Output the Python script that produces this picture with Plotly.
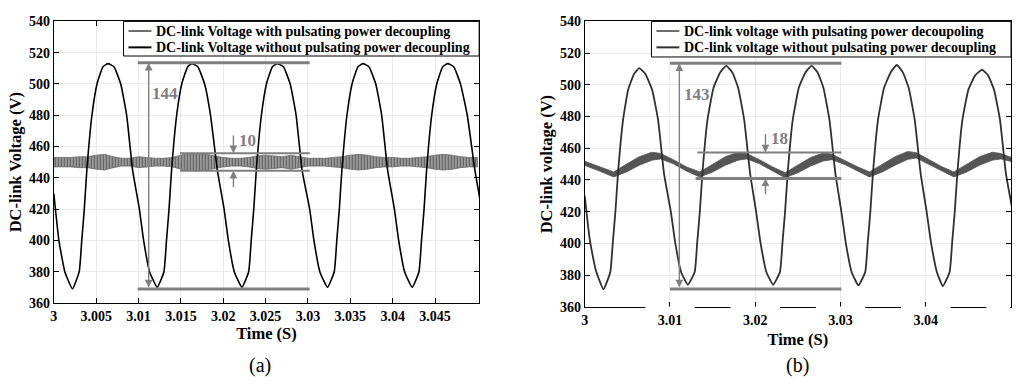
import plotly.graph_objects as go

FONT = "Liberation Serif, Times New Roman, serif"
W, H = 1022, 384

# ---------------- Panel (a) data ----------------
ta_black = [3.0000, 3.0006, 3.0013,
            3.0022, 3.0030, 3.0033, 3.0036, 3.0039, 3.0045, 3.0051, 3.0058, 3.0064, 3.0071, 3.0079, 3.0086, 3.0093, 3.0101, 3.0106, 3.0113,
            3.0122, 3.0130, 3.0133, 3.0136, 3.0139, 3.0145, 3.0151, 3.0158, 3.0163, 3.0170, 3.0178, 3.0185, 3.0193, 3.0201, 3.0206, 3.0213,
            3.0222, 3.0230, 3.0233, 3.0236, 3.0239, 3.0245, 3.0251, 3.0258, 3.0264, 3.0271, 3.0279, 3.0286, 3.0293, 3.0302, 3.0307, 3.0314,
            3.0323, 3.0331, 3.0334, 3.0337, 3.0340, 3.0346, 3.0352, 3.0359, 3.0365, 3.0372, 3.0380, 3.0387, 3.0394, 3.0402, 3.0407, 3.0414,
            3.0423, 3.0431, 3.0434, 3.0437, 3.0440, 3.0446, 3.0452, 3.0459, 3.0465, 3.0472, 3.0480, 3.0488, 3.0497, 3.0505]
va_black = [430, 400, 380,
            369, 380, 400, 420, 445, 480, 500, 511, 513, 511, 500, 480, 445, 420, 400, 380,
            370, 380, 400, 420, 445, 480, 500, 511, 513, 511, 500, 480, 445, 420, 400, 380,
            370, 380, 400, 420, 445, 480, 500, 511, 513, 511, 500, 480, 445, 420, 400, 380,
            370, 380, 400, 420, 445, 480, 500, 511, 513, 511, 500, 480, 445, 420, 400, 380,
            370, 380, 400, 420, 445, 480, 500, 511, 513, 511, 500, 480, 445, 420]

ta_rip = [3.000, 3.001, 3.002, 3.003, 3.004, 3.005, 3.006, 3.007, 3.008, 3.009,
          3.010, 3.011, 3.012, 3.013, 3.014, 3.015, 3.016, 3.017, 3.018, 3.019,
          3.020, 3.021, 3.022, 3.023, 3.024, 3.025, 3.026, 3.027, 3.028, 3.029,
          3.030, 3.031, 3.032, 3.033, 3.034, 3.035, 3.036, 3.037, 3.038, 3.039,
          3.040, 3.041, 3.042, 3.043, 3.044, 3.045, 3.046, 3.047, 3.048, 3.049, 3.050]
va_rip_mid = [450, 450, 450, 450, 450, 450, 450, 450, 450, 450,
              450, 450, 450, 450, 450, 450, 450, 450, 450, 450,
              450, 450, 450, 450, 450, 450, 450, 450, 450, 450,
              450, 450, 450, 450, 450, 450, 450, 450, 450, 450,
              450, 450, 450, 450, 450, 450, 450, 450, 450, 450, 450]
va_rip_hw = [3, 3, 3, 3.5, 3.5, 4.5, 5, 3.5, 2.5, 2.5,
             3.5, 3, 2.5, 2.5, 3, 4.5, 5.5, 5.5, 5, 4,
             3, 2.5, 2.5, 3, 4, 4.5, 4, 3.5, 4.5, 3.5,
             2.5, 2.5, 2.5, 3, 3.5, 4.5, 5, 4.5, 3.5, 3,
             3, 2.5, 2.5, 3, 3.5, 4.5, 5, 4.5, 3.5, 3, 3]

# ---------------- Panel (b) data ----------------
tb_dark = [3.0000, 3.0006, 3.0013,
           3.0022, 3.0030, 3.0033, 3.0036, 3.0039, 3.0045, 3.0051, 3.0058, 3.0064, 3.0071, 3.0079, 3.0086, 3.0093, 3.0101, 3.0106, 3.0113,
           3.0121, 3.0129, 3.0132, 3.0135, 3.0138, 3.0144, 3.0151, 3.0159, 3.0166, 3.0173, 3.0180, 3.0187, 3.0194, 3.0201, 3.0206, 3.0213,
           3.0221, 3.0229, 3.0232, 3.0235, 3.0238, 3.0244, 3.0251, 3.0259, 3.0266, 3.0273, 3.0280, 3.0287, 3.0294, 3.0301, 3.0306, 3.0313,
           3.0321, 3.0329, 3.0332, 3.0335, 3.0338, 3.0344, 3.0351, 3.0359, 3.0366, 3.0373, 3.0380, 3.0387, 3.0394, 3.0401, 3.0406, 3.0413,
           3.0420, 3.0428, 3.0431, 3.0434, 3.0437, 3.0443, 3.0450, 3.0458, 3.0466, 3.0473, 3.0480, 3.0487, 3.0494, 3.0502]
vb_dark = [430, 402, 383,
           371, 382, 401, 420, 444, 478, 497, 507, 510.5, 507, 497, 478, 444, 420, 401, 382,
           374, 382, 401, 420, 444, 478, 498, 508, 512, 508, 498, 478, 444, 420, 401, 382,
           374, 382, 401, 420, 444, 478, 498, 508, 512, 508, 498, 478, 444, 420, 401, 382,
           373.5, 382, 401, 420, 444, 478, 498, 508, 512.5, 508, 498, 478, 444, 420, 401, 382,
           373, 382, 401, 420, 444, 478, 497, 506, 509.5, 506, 497, 478, 444, 420]

tb_rip = [3.0000, 3.0017, 3.0034, 3.0049, 3.0064, 3.0079, 3.0089, 3.0104, 3.0119,
          3.0135, 3.0150, 3.0165, 3.0180, 3.0190, 3.0205, 3.0220,
          3.0235, 3.0250, 3.0265, 3.0280, 3.0290, 3.0305, 3.0320,
          3.0334, 3.0349, 3.0364, 3.0379, 3.0389, 3.0404, 3.0419,
          3.0433, 3.0448, 3.0463, 3.0478, 3.0488, 3.0500]
vb_rip_mid = [450.5, 447, 443.5, 447.5, 452, 455, 455, 451.5, 447,
              443.5, 447.5, 452, 455, 455, 451.5, 447,
              443, 447, 451.5, 454.5, 454.5, 451, 447,
              443.5, 447.5, 452, 455.5, 455.5, 451.5, 447,
              443.5, 447.5, 452, 455, 455, 453]
vb_rip_hw = [1.3, 1.3, 1.6, 2.5, 2.7, 2.5, 1.7, 1.3, 1.3,
             1.6, 2.5, 2.7, 2.5, 1.7, 1.3, 1.3,
             1.6, 2.5, 2.7, 2.5, 1.7, 1.3, 1.3,
             1.6, 2.5, 2.7, 2.5, 1.7, 1.3, 1.3,
             1.6, 2.5, 2.7, 2.5, 1.7, 1.3]

# ---------------- labels / ticks ----------------
names_a = ["DC-link Voltage with pulsating power decoupling",
           "DC-link Voltage without pulsating power decoupling"]
names_b = ["DC-link voltage with pulsating power decoupoling",
           "DC-link voltage without pulsating power decoupling"]
xticks_a = [3, 3.005, 3.01, 3.015, 3.02, 3.025, 3.03, 3.035, 3.04, 3.045]
xticktext_a = ["3", "3.005", "3.01", "3.015", "3.02", "3.025", "3.03", "3.035", "3.04", "3.045"]
xticks_b = [3, 3.01, 3.02, 3.03, 3.04, 3.05]
xticktext_b = ["3", "3.01", "3.02", "3.03", "3.04", "3.05"]
yticks = [360, 380, 400, 420, 440, 460, 480, 500, 520, 540]
yticktext = ["360", "380", "400", "420", "440", "460", "480", "500", "520", "540"]
ytitle_a = "DC-link Voltage (V)"
ytitle_b = "DC-link voltage (V)"
xtitle = "Time (S)"

# annotation (measurement) values
a_peak, a_trough, a_rip_hi, a_rip_lo = 513.5, 369, 455.7, 444.5
b_peak, b_trough, b_rip_hi, b_rip_lo = 513.6, 371.3, 457.3, 441.0
a_pp_label, a_rip_label = "144", "10"
b_pp_label, b_rip_label = "143", "18"

GRAY = "#7f7f7f"
B_RIP_COLOR, B_MAIN_COLOR = "#555555", "#303030"

fig = go.Figure()


def band(t, mid, hw, xa, ya, color=None, pattern=None, edge="#666666"):
    up = [m + h for m, h in zip(mid, hw)]
    lo = [m - h for m, h in zip(mid, hw)]
    kw = dict(fillcolor=color) if color else dict(fillpattern=pattern, fillcolor="rgba(0,0,0,0)")
    return go.Scatter(x=t + t[::-1], y=up + lo[::-1], fill="toself", mode="lines",
                      line=dict(color=edge, width=0.8), showlegend=False, hoverinfo="skip",
                      xaxis=xa, yaxis=ya, **kw)


# Panel (a)
fig.add_trace(go.Scatter(x=ta_rip, y=va_rip_mid, mode="lines", name=names_a[0], showlegend=False,
                         line=dict(color="#8a8a8a", width=1), xaxis="x", yaxis="y"))
fig.add_trace(band(ta_rip, va_rip_mid, va_rip_hw, "x", "y",
                   pattern=dict(shape="|", fgcolor="#5e5e5e", bgcolor="#b4b4b4",
                                size=3, solidity=0.55, fillmode="replace"),
                   edge="#6a6a6a"))
fig.add_trace(go.Scatter(x=ta_black, y=va_black, mode="lines", name=names_a[1], showlegend=False,
                         line=dict(color="black", width=1.6, shape="spline", smoothing=0.4),
                         xaxis="x", yaxis="y"))

# Panel (b)
fig.add_trace(go.Scatter(x=tb_rip, y=vb_rip_mid, mode="lines", name=names_b[0], showlegend=False,
                         line=dict(color=B_RIP_COLOR, width=1), xaxis="x2", yaxis="y2"))
fig.add_trace(band(tb_rip, vb_rip_mid, vb_rip_hw, "x2", "y2", color=B_RIP_COLOR, edge=B_RIP_COLOR))
fig.add_trace(go.Scatter(x=tb_dark, y=vb_dark, mode="lines", name=names_b[1], showlegend=False,
                         line=dict(color=B_MAIN_COLOR, width=1.8, shape="spline", smoothing=0.4),
                         xaxis="x2", yaxis="y2"))

axis_common = dict(showline=True, linecolor="black", linewidth=1, mirror="ticks",
                   ticks="inside", ticklen=5, tickcolor="black", showgrid=True,
                   gridcolor="#ebebeb", gridwidth=1, zeroline=False,
                   tickfont=dict(family=FONT, size=14, color="black"))
title_font = dict(family=FONT, size=16.5, color="black")


def bold(lst):
    return ["<b>%s</b>" % s for s in lst]


fig.update_layout(
    width=W, height=H, margin=dict(l=0, r=0, t=0, b=0),
    paper_bgcolor="white", plot_bgcolor="white", showlegend=False,
    xaxis=dict(axis_common, domain=[50 / W, 477 / W], range=[3, 3.0502], anchor="y",
               tickvals=xticks_a, ticktext=bold(xticktext_a),
               title=dict(text="<b>%s</b>" % xtitle, font=title_font, standoff=4)),
    yaxis=dict(axis_common, domain=[1 - 308 / H, 1 - 15 / H], range=[360, 540], anchor="x",
               tickvals=yticks, ticktext=bold(yticktext),
               title=dict(text="<b>%s</b>" % ytitle_a, font=title_font, standoff=3)),
    xaxis2=dict(axis_common, domain=[583 / W, 1011 / W], range=[3, 3.05], anchor="y2",
                tickvals=xticks_b, ticktext=bold(xticktext_b),
                title=dict(text="<b>%s</b>" % xtitle, font=title_font, standoff=6)),
    yaxis2=dict(axis_common, domain=[1 - 312 / H, 1 - 15 / H], range=[360, 540], anchor="x2",
                tickvals=yticks, ticktext=bold(yticktext),
                title=dict(text="<b>%s</b>" % ytitle_b, font=title_font, standoff=3)),
)

shapes = []
annos = []


def hline(xref, yref, x0, x1, y, w, color=GRAY):
    shapes.append(dict(type="line", xref=xref, yref=yref, x0=x0, x1=x1, y0=y, y1=y,
                       line=dict(color=color, width=w), layer="above"))


def arrow(xref, yref, x, y, ax, ay, both=False):
    annos.append(dict(xref=xref, yref=yref, axref=xref, ayref=yref, x=x, y=y, ax=ax, ay=ay,
                      text="", showarrow=True, arrowhead=2, arrowsize=1.1, arrowwidth=1.4,
                      arrowcolor=GRAY, arrowside="end+start" if both else "end",
                      standoff=0, startstandoff=0))


def label(xref, yref, x, y, txt):
    annos.append(dict(xref=xref, yref=yref, x=x, y=y, text="<b>%s</b>" % txt, showarrow=False,
                      xanchor="left", yanchor="middle",
                      font=dict(family=FONT, size=17, color=GRAY)))


# (a) annotations
hline("x", "y", 3.0099, 3.0302, a_peak, 3)
hline("x", "y", 3.0099, 3.0302, a_trough, 3)
hline("x", "y", 3.0149, 3.0302, a_rip_hi, 2)
hline("x", "y", 3.0149, 3.0302, a_rip_lo, 2)
arrow("x", "y", 3.0112, a_peak, 3.0112, a_trough, both=True)
arrow("x", "y", 3.0212, a_rip_hi, 3.0212, 468)
arrow("x", "y", 3.0212, a_rip_lo, 3.0212, 433)
label("x", "y", 3.0114, 494, a_pp_label)
label("x", "y", 3.0216, 464, a_rip_label)

# (b) annotations
hline("x2", "y2", 3.0100, 3.0301, b_peak, 3)
hline("x2", "y2", 3.0100, 3.0301, b_trough, 3)
hline("x2", "y2", 3.0132, 3.0301, b_rip_hi, 2)
hline("x2", "y2", 3.0130, 3.0301, b_rip_lo, 3)
arrow("x2", "y2", 3.0111, b_peak, 3.0111, b_trough, both=True)
arrow("x2", "y2", 3.0212, b_rip_hi, 3.0212, 470)
arrow("x2", "y2", 3.0212, b_rip_lo, 3.0212, 430)
label("x2", "y2", 3.0114, 494, b_pp_label)
label("x2", "y2", 3.0216, 466, b_rip_label)

# gaps in the bottom axis line of panel (b) (as in the original rendering)
for tv in xticks_b[1:]:
    shapes.append(dict(type="rect", xref="x2", yref="paper", x0=tv - 0.0029, x1=min(tv + 0.0029, 3.0499),
                       y0=1 - 314 / H, y1=1 - 311.6 / H, fillcolor="white", line=dict(width=0),
                       layer="above"))


# legends (boxed, MATLAB style)
def legend_box(x0, x1, y0, y1, names, colors, widths):
    shapes.append(dict(type="rect", xref="paper", yref="paper", x0=x0 / W, x1=x1 / W,
                       y0=1 - y1 / H, y1=1 - y0 / H, fillcolor="white",
                       line=dict(color="black", width=1), layer="above"))
    rows = [y0 + 10, y0 + 27]
    for nm, c, w, ry in zip(names, colors, widths, rows):
        shapes.append(dict(type="line", xref="paper", yref="paper", x0=(x0 + 5) / W, x1=(x0 + 28) / W,
                           y0=1 - ry / H, y1=1 - ry / H, line=dict(color=c, width=w), layer="above"))
        annos.append(dict(xref="paper", yref="paper", x=(x0 + 31) / W, y=1 - ry / H,
                          text="<b>%s</b>" % nm, showarrow=False, xanchor="left", yanchor="middle",
                          font=dict(family=FONT, size=14, color="black")))


legend_box(120, 477, 15, 51, names_a, ["#6e6e6e", "#000000"], [2, 2])
legend_box(650, 1011, 15, 52, names_b, ["#6e6e6e", "#303030"], [2, 2])

# sub-figure captions
annos.append(dict(xref="paper", yref="paper", x=257 / W, y=1 - 373 / H, text="(a)", showarrow=False,
                  xanchor="center", yanchor="middle", font=dict(family=FONT, size=20, color="black")))
annos.append(dict(xref="paper", yref="paper", x=797 / W, y=1 - 373 / H, text="(b)", showarrow=False,
                  xanchor="center", yanchor="middle", font=dict(family=FONT, size=20, color="black")))

fig.update_layout(shapes=shapes, annotations=annos)
fig.write_html("out.html")
